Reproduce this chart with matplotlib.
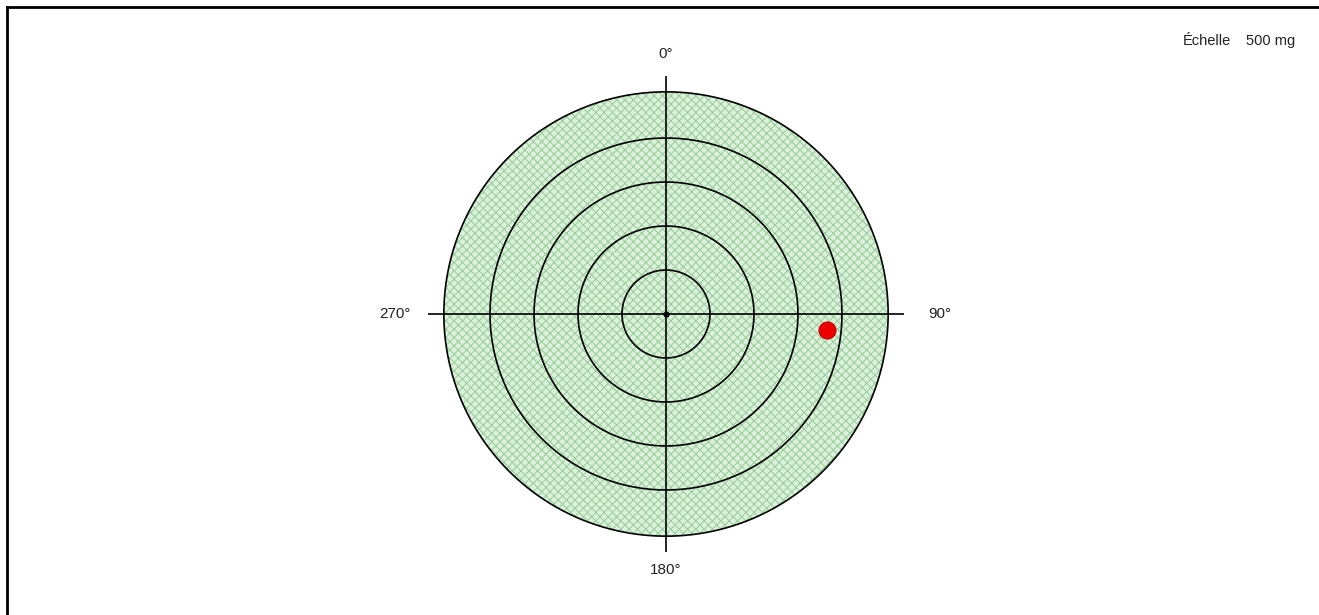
import numpy as np
import matplotlib
matplotlib.use("Agg")
import matplotlib.pyplot as plt
from matplotlib.lines import Line2D

plt.rcParams['font.family'] = ['Liberation Sans', 'DejaVu Sans']
plt.rcParams['hatch.linewidth'] = 0.8

# data
ring_values = [1, 2, 3, 4, 5]          # rings, in units of the scale
axis_angles = [0, 90, 180, 270]        # degrees, clockwise from top
axis_labels = ['0°', '90°', '180°', '270°']
point_angle = [95.7]                   # degrees
point_value = [3.68]                   # in scale units
scale_label = 'Échelle'
scale_value = '500 mg'

W, H = 1319, 615
fig = plt.figure(figsize=(W / 100, H / 100), dpi=100)

# polar axes centred on (666, 314) px, radius 238 px
cx, cy, rpx = 666, 314, 238
ax = fig.add_axes([(cx - rpx) / W, (H - cy - rpx) / H, 2 * rpx / W, 2 * rpx / H],
                  projection='polar')
ax.set_theta_zero_location('N')
ax.set_theta_direction(-1)
rmax = 5.41
ax.set_ylim(0, rmax)
ax.set_axis_off()

# hatched disc
t = np.linspace(0, 2 * np.pi, 400)
outer = max(ring_values)
ax.fill(t, np.full_like(t, outer * 1.01), facecolor='#dcf1dc', edgecolor='#9dcf9d',
        hatch='xxxx', linewidth=0, zorder=1)

# rings
for r in ring_values:
    rr = r * 1.01 if r == outer else r
    ax.plot(t, np.full_like(t, rr), color='black', lw=1.2, zorder=3)

# crosshair
for a in axis_angles:
    th = np.deg2rad(a)
    ax.plot([th, th], [0, rmax], color='black', lw=1.2, zorder=3)

# centre dot
ax.plot([0], [0], 'o', color='black', ms=3.5, zorder=4)

# labels
label_r = {0: 5.9, 90: 6.23, 180: 5.82, 270: 6.16}
for a, lab in zip(axis_angles, axis_labels):
    ax.text(np.deg2rad(a), label_r[a], lab, ha='center', va='center',
            fontsize=11, color='#222222', clip_on=False)

# data point
ax.plot(np.deg2rad(point_angle), point_value, 'o', color='#ee0000', ms=12,
        markeredgecolor='#cc0000', zorder=5)

# scale text
fig.text(1183 / W, 1 - 41 / H, scale_label, ha='left', va='center', fontsize=10.5, color='#222222')
fig.text(1246 / W, 1 - 41 / H, scale_value, ha='left', va='center', fontsize=10.5, color='#222222')

# frame (top and left edges)
fig.add_artist(Line2D([6.5 / W, 1], [1 - 6.5 / H, 1 - 6.5 / H], color='black', lw=2,
                      transform=fig.transFigure))
fig.add_artist(Line2D([6.5 / W, 6.5 / W], [0, 1 - 6.5 / H], color='black', lw=2,
                      transform=fig.transFigure))

fig.savefig('out.png', dpi=100, facecolor='white')
